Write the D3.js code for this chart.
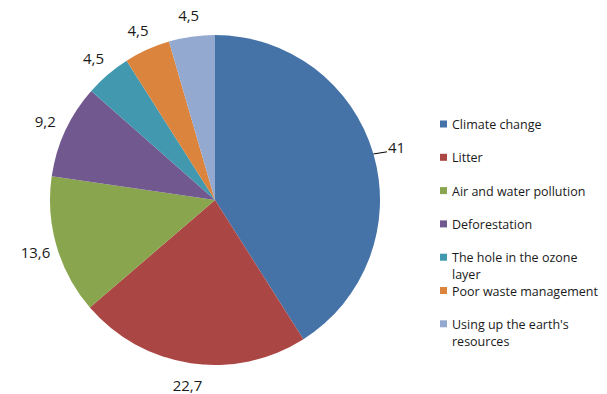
<!DOCTYPE html>
<html>
<head>
<meta charset="utf-8">
<script src="https://cdn.jsdelivr.net/npm/d3@7"></script>
<style>
  html, body { margin: 0; padding: 0; background: #fff; }
  svg { display: block; }
  text { font-family: "Open Sans", "Liberation Sans", sans-serif; fill: #1a1a1a; }
</style>
</head>
<body>
<svg id="chart" width="607" height="394"></svg>
<script>
// Environmental concerns, share of responses
const categories = [
  "Climate change",
  "Litter",
  "Air and water pollution",
  "Deforestation",
  "The hole in the ozone layer",
  "Poor waste management",
  "Using up the earth's resources"
];
const values = [41, 22.7, 13.6, 9.2, 4.5, 4.5, 4.5];
const colors = ["#4572A7", "#AA4643", "#89A54E", "#71588F", "#4198AF", "#DB843D", "#93A9CF"];

const svg = d3.select("#chart");
const cx = 215, cy = 200, radius = 165, labelRadius = 187;

const data = categories.map((c, i) => ({ name: c, value: values[i], color: colors[i] }));

const pie = d3.pie().value(d => d.value).sort(null);
const arcs = pie(data);
const arc = d3.arc().innerRadius(0).outerRadius(radius);
const edgeArc = d3.arc().innerRadius(radius).outerRadius(radius);
const labelArc = d3.arc().innerRadius(labelRadius).outerRadius(labelRadius);

const g = svg.append("g").attr("transform", `translate(${cx},${cy})`);

g.selectAll("path.slice")
  .data(arcs)
  .join("path")
  .attr("class", "slice")
  .attr("d", arc)
  .attr("fill", d => d.data.color);

const fmt = v => String(v).replace(".", ",");

// Value labels outside the pie; the largest slice gets a leader line
arcs.forEach((d, i) => {
  let [x, y] = labelArc.centroid(d);
  if (i === 0) { x += 2; y -= 1; }
  const t = g.append("text")
    .attr("x", x).attr("y", y)
    .attr("text-anchor", "middle")
    .attr("dominant-baseline", "central")
    .style("font-size", "15px")
    .text(fmt(d.data.value));
  if (i === 0) {
    const [ex, ey] = edgeArc.centroid(d);
    const w = t.node().getComputedTextLength();
    g.insert("line", "text")
      .attr("x1", ex).attr("y1", ey)
      .attr("x2", x - w / 2 - 1).attr("y2", y + 5)
      .attr("stroke", "#000").attr("stroke-width", 1);
  }
});

// Legend
const legendX = 440, legendY = 124, rowStep = 33.3, lineH = 17, maxW = 152;
const legend = svg.append("g");
data.forEach((d, i) => {
  const y = legendY + i * rowStep;
  legend.append("rect")
    .attr("x", legendX).attr("y", y - 3.5)
    .attr("width", 7).attr("height", 7)
    .attr("fill", d.color);
  const t = legend.append("text")
    .attr("x", legendX + 12).attr("y", y)
    .attr("dominant-baseline", "central")
    .style("font-size", "12.5px");
  // greedy word wrap
  const words = d.name.split(" ");
  let line = [];
  let tspan = t.append("tspan").attr("x", legendX + 12).attr("dy", 0);
  words.forEach(w => {
    line.push(w);
    tspan.text(line.join(" "));
    if (tspan.node().getComputedTextLength() > maxW && line.length > 1) {
      line.pop();
      tspan.text(line.join(" "));
      line = [w];
      tspan = t.append("tspan").attr("x", legendX + 12).attr("dy", lineH).text(w);
    }
  });
});
</script>
</body>
</html>
